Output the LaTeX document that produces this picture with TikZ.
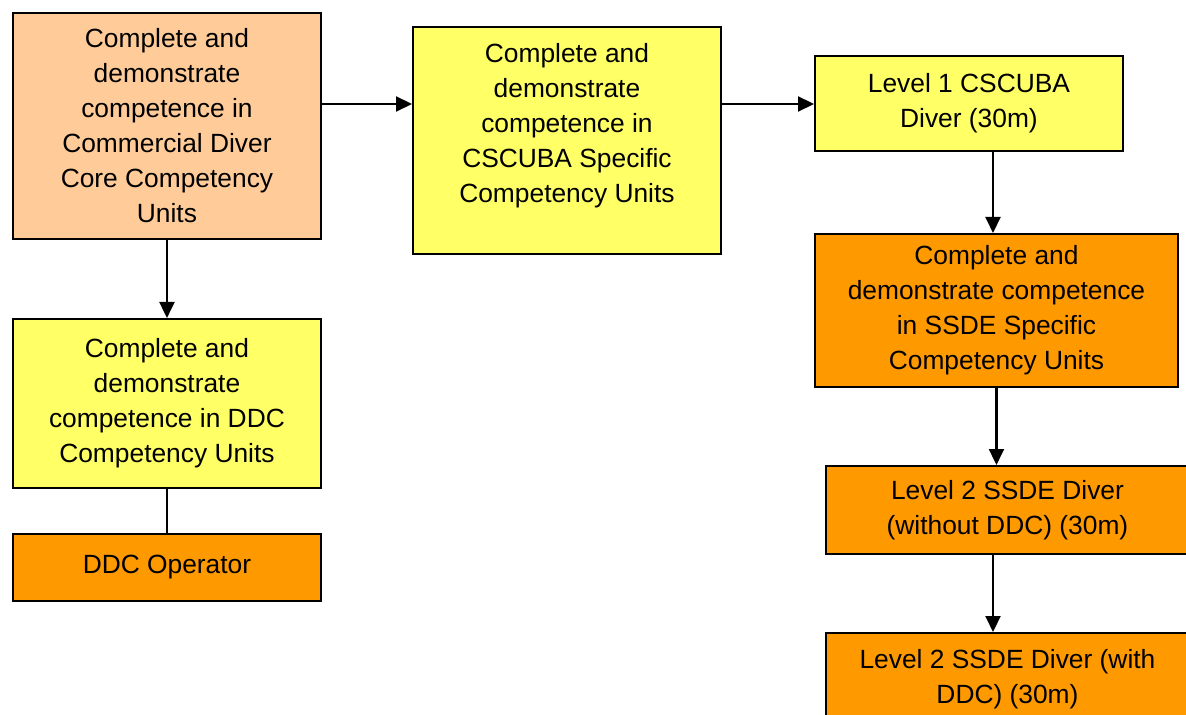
\documentclass[tikz,border=0pt]{standalone}
\usepackage{fontspec}
\setmainfont{Liberation Sans}
\usetikzlibrary{arrows.meta,
                positioning}

\definecolor{paleorange}{HTML}{FFCC99}
\definecolor{paleyellow}{HTML}{FFFF66}
\definecolor{deeporange}{HTML}{FF9900}

\begin{document}
\begin{tikzpicture}[x=0.02cm, y=-0.02cm,
        box/.style={draw, line width = 1.1pt, anchor=north west, align=center, inner sep=0pt,
                    font=\fontsize{15pt}{19.9pt}\selectfont},
        arr/.style={-{Triangle[length=0.32cm, width=0.3cm]}, line width = 1.2pt}]
        \useasboundingbox (0, 0) rectangle (1186, 715);

        \node [box, fill=paleorange, minimum width=308*0.02cm, minimum height=226*0.02cm] (core) at (12, 12)
            {Complete and\\demonstrate\\competence in\\Commercial Diver\\Core Competency\\Units};
        \node [box, fill=paleyellow, minimum width=308*0.02cm, minimum height=227*0.02cm] (cscubaunits) at (412, 26)
            {Complete and\\demonstrate\\competence in\\CSCUBA Specific\\Competency Units\\ \mbox{}};
        \node [box, fill=paleyellow, minimum width=308*0.02cm, minimum height=95*0.02cm] (levelone) at (814, 55)
            {Level 1 CSCUBA\\Diver (30m)};
        \node [box, fill=deeporange, minimum width=363*0.02cm, minimum height=153*0.02cm] (ssdeunits) at (814, 233)
            {Complete and\\demonstrate competence\\in SSDE Specific\\Competency Units};
        \node [box, fill=deeporange, minimum width=363*0.02cm, minimum height=88*0.02cm] (ssdenoddc) at (825, 465)
            {Level 2 SSDE Diver\\(without DDC) (30m)};
        \node [box, fill=deeporange, minimum width=363*0.02cm, minimum height=92*0.02cm] (ssdeddc) at (825, 632)
            {Level 2 SSDE Diver (with\\DDC) (30m)};
        \node [box, fill=paleyellow, minimum width=308*0.02cm, minimum height=169*0.02cm] (ddcunits) at (12, 318)
            {Complete and\\demonstrate\\competence in DDC\\Competency Units};
        \node [box, fill=deeporange, minimum width=308*0.02cm, minimum height=67*0.02cm] (ddcop) at (12, 533)
            {DDC Operator};

        % connectors
        \coordinate (row) at (0, 104);
        \coordinate (col) at (993, 0);
        \draw [arr] (core.east |- row) -- (cscubaunits.west |- row);
        \draw [arr] (cscubaunits.east |- row) -- (levelone.west |- row);
        \draw [arr] (col |- levelone.south) -- (col |- ssdeunits.north);
        \draw [arr] (ssdeunits.south) -- (ssdeunits.south |- ssdenoddc.north);
        \draw [arr] (col |- ssdenoddc.south) -- (col |- ssdeddc.north);
        \draw [arr] (core.south) -- (ddcunits.north);
        \draw [line width = 1.2pt] (ddcunits.south) -- (ddcop.north);
    \end{tikzpicture}
\end{document}
